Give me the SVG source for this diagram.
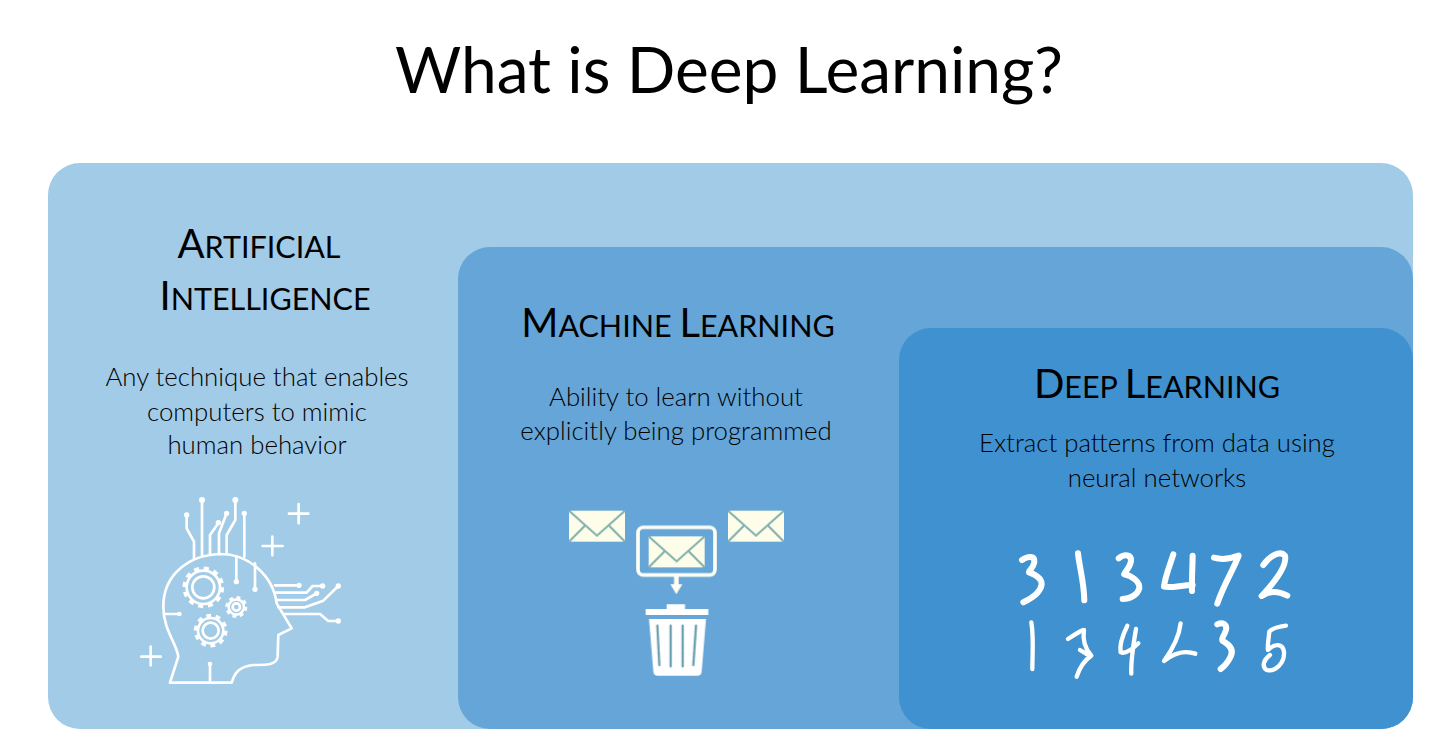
<svg xmlns="http://www.w3.org/2000/svg" width="1445" height="752" viewBox="0 0 1445 752">
<style>
  text { font-family: "Lato", "Liberation Sans", sans-serif; fill: #000; text-anchor: middle; }
  .title { font-size: 64px; font-weight: 400; }
  .head { font-size: 40px; font-weight: 400; }
  .sc { font-size: 30.5px; }
  .body { font-size: 25.8px; font-weight: 300; fill: #000; }
  .line { fill: none; stroke: #fff; stroke-width: 8; stroke-linecap: round; stroke-linejoin: round; }
  .teeth { fill: none; stroke: #fff; }
  .dot { fill: #fff; }
  .flap { fill: none; stroke: #7fb0ae; stroke-width: 6; }
  .digit { fill: none; stroke: #fff; stroke-width: 18; stroke-linecap: round; stroke-linejoin: round; }
  .thin { stroke-width: 13; }
</style>
<defs>
  <filter id="soft" x="-5%" y="-5%" width="110%" height="110%"><feGaussianBlur stdDeviation="0.7"/></filter>
  <g id="envelope">
    <rect x="0" y="0" width="168" height="93" fill="#fdfdea"/>
    <path class="flap" d="M0 0L84 75L168 0M0 93L50 43M168 93L118 43"/>
  </g>
</defs>
<rect width="1445" height="752" fill="#fff"/>
<text class="title" x="729" y="93">What is Deep Learning?</text>

<g id="ai">
  <rect x="48" y="163" width="1365" height="566" rx="32" fill="#a2cbe7"/>
  <text class="head" x="259" y="258">A<tspan class="sc">RTIFICIAL</tspan></text>
  <text class="head" x="265" y="310">I<tspan class="sc">NTELLIGENCE</tspan></text>
  <text class="body" x="257" y="386">Any technique that enables</text>
  <text class="body" x="257" y="421">computers to mimic</text>
  <text class="body" x="257" y="454">human behavior</text>
  <g id="head-icon" transform="translate(120 480) scale(.3333)" filter="url(#soft)">
    <path class="line" d="M150 608H335C345 575 360 560 400 555C440 555 470 555 473 530L475 465L515 445L470 370C460 290 390 222 300 222C210 225 130 280 130 380C130 450 170 490 175 530Z"/>
    <path class="line" d="M222 235V185L200 145V105M246 225V60M270 222V165L295 130M297 222V160L320 100M320 222V165L346 120V60M373 230V100M349 230V305M405 250V328M135 402H178M270 608V552"/>
    <path class="line" d="M465 316H537M468 338H560L578 318H608M470 360H555L590 340M475 382H555L610 362L655 318M490 402H600L625 423H655"/>
    <g class="dot">
      <circle cx="200" cy="105" r="8"/><circle cx="246" cy="60" r="9"/><circle cx="295" cy="128" r="8"/><circle cx="320" cy="100" r="8"/><circle cx="346" cy="60" r="9"/><circle cx="373" cy="100" r="8"/><circle cx="349" cy="305" r="8"/><circle cx="405" cy="328" r="8"/><circle cx="178" cy="402" r="7"/><circle cx="270" cy="552" r="7"/><circle cx="537" cy="316" r="8"/><circle cx="608" cy="318" r="8"/><circle cx="590" cy="340" r="8"/><circle cx="655" cy="318" r="8"/><circle cx="655" cy="423" r="8"/>
    </g>
    <g class="line">
      <circle cx="250" cy="322" r="33"/><circle cx="250" cy="322" r="50"/>
      <circle cx="272" cy="452" r="24"/><circle cx="272" cy="452" r="38"/>
      <circle cx="349" cy="381" r="11"/><circle cx="349" cy="381" r="23"/>
      <path d="M507 101H565M536 72V130M428 198H488M457 170V226M64 530H122M92 500V556"/>
    </g>
    <circle class="teeth" cx="250" cy="322" r="56" stroke-width="13" stroke-dasharray="15 14.3"/>
    <circle class="teeth" cx="272" cy="452" r="44" stroke-width="13" stroke-dasharray="14 13.6"/>
    <circle class="teeth" cx="349" cy="381" r="28" stroke-width="10" stroke-dasharray="11 11"/>
  </g>
</g>

<g id="ml">
  <rect x="458" y="247" width="955" height="482" rx="32" fill="#66a5d7"/>
  <text class="head" x="678" y="337">M<tspan class="sc">ACHINE </tspan>L<tspan class="sc">EARNING</tspan></text>
  <text class="body" x="676" y="406">Ability to learn without</text>
  <text class="body" x="676" y="440">explicitly being programmed</text>
  <g id="mail-icon" transform="translate(550 495) scale(.3333)" filter="url(#soft)">
    <use href="#envelope" x="57" y="47"/>
    <use href="#envelope" x="534" y="47"/>
    <rect x="264" y="97" width="231" height="143" rx="16" fill="none" stroke="#fdfdf2" stroke-width="11"/>
    <use href="#envelope" x="296" y="124"/>
    <path d="M372 240H386V268H397L379 298L361 268H372Z" fill="#fdfdf2"/>
    <path d="M287 342H350V328H405V342H475V360H287Z" fill="#fff"/>
    <path d="M297 372H468L455 530Q454 542 442 542H323Q311 542 310 530Z" fill="#fff"/>
    <path d="M322 392L328 510M362 392V515M398 392V515M438 392L430 510" fill="none" stroke="#6a9fb2" stroke-width="7" stroke-linecap="round" stroke-dasharray="22 3"/>
  </g>
</g>

<g id="dl">
  <rect x="899" y="328" width="514" height="401" rx="32" fill="#3f92cf"/>
  <text class="head" x="1157" y="398">D<tspan class="sc">EEP </tspan>L<tspan class="sc">EARNING</tspan></text>
  <text class="body" x="1157" y="452">Extract patterns from data using</text>
  <text class="body" x="1157" y="487">neural networks</text>
  <g id="digits" transform="translate(1000 535) scale(.3333)" filter="url(#soft)">
    <path class="digit" d="M66 75C85 62 105 62 103 82C100 100 85 108 87 112C105 118 125 130 125 148C122 172 95 190 70 202"/>
    <path class="digit" d="M234 55C238 95 252 140 253 196"/>
    <path class="digit" d="M356 70C375 55 395 60 393 78C390 100 372 112 372 118C395 122 420 140 418 160C412 180 390 192 368 192"/>
    <path class="digit" d="M520 58C510 90 495 125 492 155C515 160 545 150 578 150M578 62C578 90 575 125 576 168"/>
    <path class="digit" d="M642 68C665 75 695 70 716 62C700 105 670 150 652 206"/>
    <path class="digit" d="M790 90C810 62 840 45 855 62C862 90 825 140 785 183C810 165 835 168 862 182"/>
    <path class="digit thin" d="M94 262C102 310 97 360 97 402"/>
    <path class="digit thin" d="M204 312C225 298 245 285 252 285C248 310 250 335 274 362C255 375 240 395 230 425M240 345L268 362"/>
    <path class="digit thin" d="M382 272C368 300 358 330 362 352C378 358 400 340 415 325M408 282C400 330 392 375 394 416"/>
    <path class="digit thin" d="M542 265C538 300 520 340 492 378C520 355 555 345 586 356"/>
    <path class="digit" d="M652 268C668 260 682 268 678 285C672 305 662 310 668 318C690 330 702 345 692 365C682 385 672 395 662 402"/>
    <path class="digit thin" d="M858 272C835 275 815 282 808 290C805 320 802 335 804 345C825 325 848 325 852 350C855 385 825 412 800 405C785 395 790 375 810 360"/>
  </g>
</g>
</svg>
